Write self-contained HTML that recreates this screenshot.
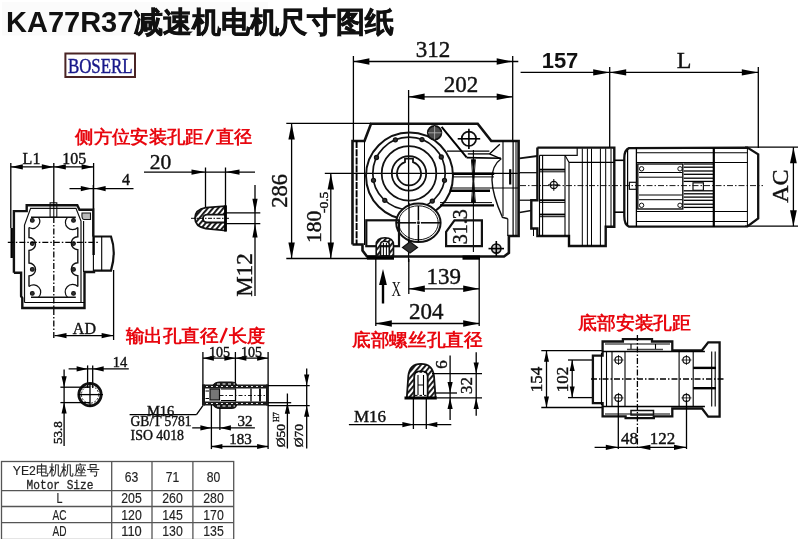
<!DOCTYPE html>
<html><head><meta charset="utf-8"><style>
html,body{margin:0;padding:0;background:#fff;}
body{width:800px;height:539px;overflow:hidden;}
svg{display:block;filter:blur(0.3px);}
</style></head><body>
<svg width="800" height="539" viewBox="0 0 800 539">
<defs><pattern id="hatch" patternUnits="userSpaceOnUse" width="4" height="4" patternTransform="rotate(40)"><rect width="4" height="4" fill="#fff"/><rect width="1.9" height="4" fill="#111"/></pattern></defs>
<rect width="800" height="539" fill="#fff"/>
<rect x="2" y="2" width="266" height="33.5" fill="#fbfbfb"/>
<text x="6" y="32.4" font-family="'Liberation Sans', sans-serif" font-size="29" font-weight="bold" fill="#111">KA77R37<tspan dx="1" stroke="#111" stroke-width="0.7" letter-spacing="-0.2">减速机电机尺寸图纸</tspan></text>
<rect x="65.4" y="53.5" width="69.6" height="23.5" rx="0" fill="none" stroke="#4a2424" stroke-width="2.0"/>
<text x="67.9" y="72.6" font-family="'Liberation Serif', serif" font-size="21.5" fill="#18188a" stroke="#18188a" stroke-width="0.45" textLength="64.7" lengthAdjust="spacingAndGlyphs">BOSERL</text>
<text x="75.3" y="143.2" font-family="'Liberation Sans', sans-serif" font-size="17.5" font-weight="bold" fill="#e8070f" textLength="128.5" lengthAdjust="spacingAndGlyphs">侧方位安装孔距</text>
<line x1="205.6" y1="144.6" x2="213.0" y2="129.6" stroke="#e8070f" stroke-width="2.3"/>
<text x="216.0" y="143.2" font-family="'Liberation Sans', sans-serif" font-size="17.5" font-weight="bold" fill="#e8070f" textLength="36.2" lengthAdjust="spacingAndGlyphs">直径</text>
<text x="125.7" y="341.5" font-family="'Liberation Sans', sans-serif" font-size="17.5" font-weight="bold" fill="#e8070f" textLength="92.8" lengthAdjust="spacingAndGlyphs">输出孔直径</text>
<line x1="220.5" y1="342.8" x2="226.8" y2="328.0" stroke="#e8070f" stroke-width="2.3"/>
<text x="228.7" y="341.5" font-family="'Liberation Sans', sans-serif" font-size="17.5" font-weight="bold" fill="#e8070f" textLength="36.5" lengthAdjust="spacingAndGlyphs">长度</text>
<text x="352.3" y="345.8" font-family="'Liberation Sans', sans-serif" font-size="17.5" font-weight="bold" fill="#e8070f" textLength="130" lengthAdjust="spacingAndGlyphs">底部螺丝孔直径</text>
<text x="578" y="328.5" font-family="'Liberation Sans', sans-serif" font-size="17.5" font-weight="bold" fill="#e8070f" textLength="113" lengthAdjust="spacingAndGlyphs">底部安装孔距</text>
<line x1="353.4" y1="56.0" x2="353.4" y2="141.0" stroke="#000" stroke-width="1.3"/>
<line x1="512.7" y1="56.0" x2="512.7" y2="141.0" stroke="#000" stroke-width="1.3"/>
<line x1="353.4" y1="61.5" x2="518.3" y2="61.5" stroke="#000" stroke-width="1.3"/>
<polygon points="353.4,61.5 369.4,58.3 369.4,64.7" fill="#000"/>
<polygon points="512.7,61.5 496.7,58.3 496.7,64.7" fill="#000"/>
<text x="433.0" y="49.7" font-family="'Liberation Serif', serif" font-size="23" font-weight="normal" fill="#111" stroke="#111" stroke-width="0.4" text-anchor="middle" dominant-baseline="central">312</text>
<line x1="408.6" y1="90.0" x2="408.6" y2="262.0" stroke="#000" stroke-width="1.3"/>
<line x1="408.6" y1="96.8" x2="512.7" y2="96.8" stroke="#000" stroke-width="1.3"/>
<polygon points="408.6,96.8 424.6,93.6 424.6,100.0" fill="#000"/>
<polygon points="512.7,96.8 496.7,93.6 496.7,100.0" fill="#000"/>
<text x="461.0" y="84.6" font-family="'Liberation Serif', serif" font-size="23" font-weight="normal" fill="#111" stroke="#111" stroke-width="0.4" text-anchor="middle" dominant-baseline="central">202</text>
<line x1="520.6" y1="72.4" x2="609.7" y2="72.4" stroke="#000" stroke-width="1.3"/>
<polygon points="609.7,72.4 593.2,69.3 593.2,75.5" fill="#000"/>
<line x1="609.7" y1="72.4" x2="758.3" y2="72.4" stroke="#000" stroke-width="1.3"/>
<polygon points="609.7,72.4 626.2,69.3 626.2,75.5" fill="#000"/>
<polygon points="758.3,72.4 741.8,69.3 741.8,75.5" fill="#000"/>
<line x1="609.7" y1="67.0" x2="609.7" y2="148.0" stroke="#000" stroke-width="1.3"/>
<line x1="758.3" y1="67.0" x2="758.3" y2="148.0" stroke="#000" stroke-width="1.3"/>
<text x="560.0" y="60.3" font-family="'Liberation Sans', sans-serif" font-size="22" font-weight="bold" fill="#111" text-anchor="middle" dominant-baseline="central">157</text>
<text x="684.0" y="60.3" font-family="'Liberation Serif', serif" font-size="24" font-weight="normal" fill="#111" stroke="#111" stroke-width="0.4" text-anchor="middle" dominant-baseline="central">L</text>
<line x1="745.0" y1="147.2" x2="798.0" y2="147.2" stroke="#000" stroke-width="1.3"/>
<line x1="745.0" y1="226.2" x2="798.0" y2="226.2" stroke="#000" stroke-width="1.3"/>
<line x1="793.4" y1="147.2" x2="793.4" y2="226.2" stroke="#000" stroke-width="1.3"/>
<polygon points="793.4,147.2 790.0,163.2 796.8,163.2" fill="#000"/>
<polygon points="793.4,226.2 790.0,210.2 796.8,210.2" fill="#000"/>
<text x="780.3" y="186.1" font-family="'Liberation Serif', serif" font-size="24" font-weight="normal" fill="#111" stroke="#111" stroke-width="0.4" text-anchor="middle" dominant-baseline="central" transform="rotate(-90 780.3 186.1)">AC</text>
<line x1="286.3" y1="123.4" x2="371.0" y2="123.4" stroke="#000" stroke-width="1.3"/>
<line x1="286.3" y1="258.5" x2="367.0" y2="258.5" stroke="#000" stroke-width="1.3"/>
<line x1="291.6" y1="123.4" x2="291.6" y2="258.5" stroke="#000" stroke-width="1.3"/>
<polygon points="291.6,123.4 288.4,139.4 294.8,139.4" fill="#000"/>
<polygon points="291.6,258.5 288.4,242.5 294.8,242.5" fill="#000"/>
<text x="279.3" y="190.8" font-family="'Liberation Serif', serif" font-size="22.5" font-weight="normal" fill="#111" stroke="#111" stroke-width="0.4" text-anchor="middle" dominant-baseline="central" transform="rotate(-90 279.3 190.8)">286</text>
<line x1="324.8" y1="173.4" x2="520.0" y2="173.4" stroke="#000" stroke-width="1.3"/>
<line x1="330.8" y1="173.4" x2="330.8" y2="258.5" stroke="#000" stroke-width="1.3"/>
<polygon points="330.8,173.4 327.6,189.4 334.0,189.4" fill="#000"/>
<polygon points="330.8,258.5 327.6,242.5 334.0,242.5" fill="#000"/>
<text x="314.3" y="226.8" font-family="'Liberation Serif', serif" font-size="21.5" font-weight="normal" fill="#111" stroke="#111" stroke-width="0.4" text-anchor="middle" dominant-baseline="central" transform="rotate(-90 314.3 226.8)">180</text>
<text x="323.2" y="202.4" font-family="'Liberation Serif', serif" font-size="13.5" font-weight="normal" fill="#111" stroke="#111" stroke-width="0.4" text-anchor="middle" dominant-baseline="central" transform="rotate(-90 323.2 202.4)">-0.5</text>
<polyline points="352.5,244.5 352.5,141.0 364.5,141.0 371.0,123.8 477.7,123.8 491.3,141.0 518.6,141.0 518.6,236.0 508.9,236.0 508.9,252.9 504.0,256.5 367.0,256.5 362.5,250.5 362.5,244.5 352.5,244.5" fill="none" stroke="#111" stroke-width="2.6" stroke-linejoin="miter"/>
<rect x="462.5" y="255.5" width="17.5" height="4.2" fill="#000"/>
<rect x="367" y="255.5" width="27" height="4.2" fill="#000"/>
<line x1="356.6" y1="141.0" x2="356.6" y2="244.5" stroke="#000" stroke-width="1.9" stroke-dasharray="7 1.2"/>
<line x1="364.5" y1="141.0" x2="364.5" y2="245.0" stroke="#000" stroke-width="1.0"/>
<line x1="503.0" y1="141.0" x2="503.0" y2="216.0" stroke="#000" stroke-width="1.1"/>
<line x1="513.1" y1="141.0" x2="513.1" y2="236.0" stroke="#000" stroke-width="1.2"/>
<line x1="516.0" y1="141.0" x2="516.0" y2="236.0" stroke="#000" stroke-width="1.0"/>
<circle cx="409.5" cy="176.0" r="43.5" fill="none" stroke="#111" stroke-width="2.0"/>
<circle cx="409.0" cy="173.4" r="36.2" fill="none" stroke="#111" stroke-width="1.7"/>
<circle cx="409.0" cy="173.4" r="27.3" fill="none" stroke="#111" stroke-width="1.8"/>
<circle cx="409.0" cy="173.4" r="17.2" fill="none" stroke="#111" stroke-width="1.8"/>
<path d="M 405.0 162.1 A 12 12 0 1 0 413.0 162.1 L 413.0 158.6 L 405.0 158.6 Z" fill="none" stroke="#111" stroke-width="1.8"/>
<circle cx="395.4" cy="139.8" r="2.0" fill="#333" stroke="#111" stroke-width="1.3"/>
<circle cx="422.0" cy="139.6" r="2.0" fill="#333" stroke="#111" stroke-width="1.3"/>
<circle cx="376.5" cy="157.5" r="2.0" fill="#333" stroke="#111" stroke-width="1.3"/>
<circle cx="441.3" cy="157.0" r="2.0" fill="#333" stroke="#111" stroke-width="1.3"/>
<circle cx="373.5" cy="180.3" r="2.0" fill="#333" stroke="#111" stroke-width="1.3"/>
<circle cx="444.5" cy="180.3" r="2.0" fill="#333" stroke="#111" stroke-width="1.3"/>
<circle cx="384.8" cy="200.3" r="2.0" fill="#333" stroke="#111" stroke-width="1.3"/>
<circle cx="432.3" cy="201.1" r="2.0" fill="#333" stroke="#111" stroke-width="1.3"/>
<circle cx="434.6" cy="132.8" r="6.9" fill="#4a4a4a" stroke="#111" stroke-width="1.6"/>
<line x1="428.0" y1="132.8" x2="441.5" y2="132.8" stroke="#bbb" stroke-width="0.8"/>
<line x1="434.6" y1="126.0" x2="434.6" y2="139.5" stroke="#bbb" stroke-width="0.8"/>
<line x1="441.6" y1="126.9" x2="466.6" y2="157.4" stroke="#000" stroke-width="2.0"/>
<circle cx="468.9" cy="138.8" r="7.2" fill="none" stroke="#111" stroke-width="1.7"/>
<line x1="457.7" y1="138.8" x2="480.2" y2="138.8" stroke="#000" stroke-width="1.6"/>
<line x1="468.9" y1="128.7" x2="468.9" y2="148.9" stroke="#000" stroke-width="1.6"/>
<line x1="473.4" y1="150.0" x2="473.4" y2="252.0" stroke="#000" stroke-width="1.1"/>
<line x1="447.0" y1="151.1" x2="489.4" y2="151.1" stroke="#000" stroke-width="1.3"/>
<line x1="467.8" y1="153.9" x2="489.4" y2="153.9" stroke="#000" stroke-width="1.3"/>
<line x1="489.4" y1="153.9" x2="499.8" y2="144.2" stroke="#000" stroke-width="1.3"/>
<line x1="489.4" y1="153.9" x2="501.2" y2="158.8" stroke="#000" stroke-width="1.3"/>
<line x1="466.6" y1="157.6" x2="501.0" y2="158.2" stroke="#000" stroke-width="1.6"/>
<path d="M 501.2 158.8 Q 482.2 172 502.4 217.3 L 507.8 218.7" fill="none" stroke="#111" stroke-width="1.4"/>
<polygon points="471.3,159.5 475.5,159.5 473.4,168.5" fill="#000" stroke="#111" stroke-width="0.6" stroke-linejoin="miter"/>
<polygon points="471.3,202.6 475.5,202.6 473.4,194.0" fill="#000" stroke="#111" stroke-width="0.6" stroke-linejoin="miter"/>
<path d="M 471.5 160 Q 474.5 181 471.5 202.6" fill="none" stroke="#111" stroke-width="1.0"/>
<path d="M 475.3 160 Q 472.3 181 475.3 202.6" fill="none" stroke="#111" stroke-width="1.0"/>
<line x1="453.2" y1="173.8" x2="494.2" y2="173.8" stroke="#000" stroke-width="2.6"/>
<line x1="453.5" y1="176.9" x2="494.0" y2="176.9" stroke="#000" stroke-width="1.0"/>
<line x1="450.4" y1="188.0" x2="518.0" y2="188.0" stroke="#000" stroke-width="1.0"/>
<line x1="449.7" y1="190.8" x2="490.0" y2="190.8" stroke="#000" stroke-width="2.4"/>
<line x1="440.0" y1="202.6" x2="492.0" y2="202.6" stroke="#000" stroke-width="1.0"/>
<line x1="440.0" y1="205.4" x2="494.0" y2="205.4" stroke="#000" stroke-width="2.2"/>
<line x1="510.2" y1="169.2" x2="510.2" y2="184.5" stroke="#000" stroke-width="2.2"/>
<line x1="507.8" y1="218.7" x2="507.8" y2="236.0" stroke="#000" stroke-width="1.1"/>
<ellipse cx="418.4" cy="222.8" rx="22.2" ry="19.3" fill="#fff" stroke="#111" stroke-width="2.0"/>
<ellipse cx="418.4" cy="222.8" rx="19.8" ry="17" fill="none" stroke="#111" stroke-width="1.0"/>
<line x1="409.0" y1="203.0" x2="409.0" y2="245.0" stroke="#000" stroke-width="1.3"/>
<line x1="418.4" y1="206.0" x2="418.4" y2="220.5" stroke="#000" stroke-width="1.5"/>
<line x1="418.4" y1="225.0" x2="418.4" y2="241.5" stroke="#000" stroke-width="1.5"/>
<line x1="396.5" y1="222.8" x2="416.0" y2="222.8" stroke="#000" stroke-width="1.5"/>
<line x1="421.0" y1="222.8" x2="440.5" y2="222.8" stroke="#000" stroke-width="1.5"/>
<circle cx="418.4" cy="222.8" r="1.4" fill="#111" stroke="#111" stroke-width="0.5"/>
<rect x="366.3" y="220.3" width="32.7" height="25.9" rx="0" fill="none" stroke="#111" stroke-width="2.2"/>
<path fill-rule="evenodd" d="M 376.2 256 L 376.2 245 Q 376.2 237.8 384.9 237.8 Q 393.5 237.8 393.5 245 L 393.5 256 Z M 380.5 256 L 380.5 244.5 Q 380.5 241.2 384.9 241.2 Q 389.3 241.2 389.3 244.5 L 389.3 256 Z" fill="url(#hatch)" stroke="#111" stroke-width="1.6"/>
<line x1="383.4" y1="243.0" x2="383.4" y2="256.0" stroke="#000" stroke-width="1.0"/>
<line x1="386.4" y1="243.0" x2="386.4" y2="256.0" stroke="#000" stroke-width="1.0"/>
<polygon points="410.0,241.8 417.5,247.4 410.0,253.0 402.5,247.4" fill="#333" stroke="#111" stroke-width="1.2" stroke-linejoin="miter"/>
<polygon points="446.1,231.8 454.5,220.3 481.9,220.3 481.9,246.2 446.1,246.2 446.1,231.8" fill="none" stroke="#111" stroke-width="2.2" stroke-linejoin="miter"/>
<text x="459.6" y="226.8" font-family="'Liberation Serif', serif" font-size="20" font-weight="normal" fill="#111" stroke="#111" stroke-width="0.4" text-anchor="middle" dominant-baseline="central" transform="rotate(-90 459.6 226.8)">31.3</text>
<circle cx="496.3" cy="248.6" r="4.6" fill="#ccc" stroke="#111" stroke-width="1.7"/>
<line x1="488.5" y1="248.6" x2="504.0" y2="248.6" stroke="#000" stroke-width="1.6"/>
<line x1="496.3" y1="241.0" x2="496.3" y2="256.0" stroke="#000" stroke-width="1.6"/>
<line x1="375.8" y1="259.0" x2="375.8" y2="326.0" stroke="#000" stroke-width="1.3"/>
<line x1="408.8" y1="259.0" x2="408.8" y2="294.0" stroke="#000" stroke-width="1.3"/>
<line x1="479.2" y1="259.0" x2="479.2" y2="326.0" stroke="#000" stroke-width="1.3"/>
<line x1="408.8" y1="288.8" x2="479.2" y2="288.8" stroke="#000" stroke-width="1.3"/>
<polygon points="408.8,288.8 424.8,285.6 424.8,291.9" fill="#000"/>
<polygon points="479.2,288.8 463.2,285.6 463.2,291.9" fill="#000"/>
<text x="443.8" y="276.5" font-family="'Liberation Serif', serif" font-size="23" font-weight="normal" fill="#111" stroke="#111" stroke-width="0.4" text-anchor="middle" dominant-baseline="central">139</text>
<line x1="375.8" y1="323.5" x2="479.2" y2="323.5" stroke="#000" stroke-width="1.3"/>
<polygon points="375.8,323.5 391.8,320.3 391.8,326.7" fill="#000"/>
<polygon points="479.2,323.5 463.2,320.3 463.2,326.7" fill="#000"/>
<text x="426.2" y="311.0" font-family="'Liberation Serif', serif" font-size="23" font-weight="normal" fill="#111" stroke="#111" stroke-width="0.4" text-anchor="middle" dominant-baseline="central">204</text>
<line x1="383.0" y1="280.0" x2="383.0" y2="303.5" stroke="#000" stroke-width="2.4"/>
<polygon points="383.0,269.1 379.1,285.1 386.9,285.1" fill="#000"/>
<text x="396.3" y="288.6" font-family="'Liberation Serif', serif" font-size="20" font-weight="normal" fill="#111" text-anchor="middle" dominant-baseline="central" textLength="9.5" lengthAdjust="spacingAndGlyphs">X</text>
<polyline points="519.5,158.4 537.4,156.0" fill="none" stroke="#111" stroke-width="1.8" stroke-linejoin="miter"/>
<line x1="519.5" y1="172.7" x2="537.4" y2="172.7" stroke="#000" stroke-width="1.2"/>
<line x1="519.5" y1="200.2" x2="531.3" y2="200.2" stroke="#000" stroke-width="1.2"/>
<polyline points="519.5,212.5 531.3,210.5" fill="none" stroke="#111" stroke-width="1.6" stroke-linejoin="miter"/>
<polyline points="537.4,147.6 614.3,147.6 614.3,226.7 605.7,226.7 605.7,246.0 569.0,246.0 569.0,236.0 537.4,236.0 537.4,228.5 531.3,228.5 531.3,200.2 537.4,200.2 537.4,147.6" fill="none" stroke="#111" stroke-width="2.4" stroke-linejoin="miter"/>
<polyline points="539.5,155.3 577.2,155.3 577.2,148.0" fill="none" stroke="#111" stroke-width="1.2" stroke-linejoin="miter"/>
<line x1="565.0" y1="155.3" x2="569.0" y2="162.4" stroke="#000" stroke-width="1.1"/>
<line x1="569.0" y1="162.4" x2="615.0" y2="162.4" stroke="#000" stroke-width="1.1"/>
<line x1="539.5" y1="155.3" x2="539.5" y2="236.0" stroke="#000" stroke-width="1.1"/>
<line x1="542.6" y1="155.3" x2="542.6" y2="236.0" stroke="#000" stroke-width="1.1"/>
<line x1="565.0" y1="155.3" x2="565.0" y2="236.0" stroke="#000" stroke-width="1.1"/>
<line x1="569.0" y1="162.4" x2="569.0" y2="246.0" stroke="#000" stroke-width="1.1"/>
<line x1="582.3" y1="148.5" x2="582.3" y2="246.0" stroke="#000" stroke-width="1.0"/>
<line x1="587.4" y1="148.5" x2="587.4" y2="246.0" stroke="#000" stroke-width="1.0"/>
<line x1="591.5" y1="148.5" x2="591.5" y2="246.0" stroke="#000" stroke-width="1.0"/>
<line x1="600.4" y1="148.5" x2="600.4" y2="246.0" stroke="#000" stroke-width="1.0"/>
<line x1="605.7" y1="148.5" x2="605.7" y2="226.7" stroke="#000" stroke-width="1.0"/>
<line x1="611.0" y1="148.5" x2="611.0" y2="226.7" stroke="#000" stroke-width="1.0"/>
<line x1="539.5" y1="169.6" x2="565.0" y2="169.6" stroke="#000" stroke-width="1.8"/>
<line x1="539.5" y1="171.8" x2="565.0" y2="171.8" stroke="#000" stroke-width="1.0"/>
<line x1="539.5" y1="200.2" x2="565.0" y2="200.2" stroke="#000" stroke-width="1.8"/>
<line x1="539.5" y1="202.4" x2="565.0" y2="202.4" stroke="#000" stroke-width="1.0"/>
<line x1="539.5" y1="214.5" x2="565.0" y2="214.5" stroke="#000" stroke-width="1.8"/>
<line x1="539.5" y1="216.7" x2="565.0" y2="216.7" stroke="#000" stroke-width="1.0"/>
<line x1="533.5" y1="228.5" x2="533.5" y2="236.0" stroke="#000" stroke-width="1.0"/>
<circle cx="553.8" cy="184.9" r="3.6" fill="none" stroke="#111" stroke-width="1.3"/>
<line x1="548.0" y1="184.9" x2="559.6" y2="184.9" stroke="#000" stroke-width="1.0"/>
<line x1="553.8" y1="179.0" x2="553.8" y2="190.8" stroke="#000" stroke-width="1.0"/>
<line x1="520.0" y1="185.6" x2="763.0" y2="185.6" stroke="#000" stroke-width="0.9" stroke-dasharray="6 2 1.5 2"/>
<line x1="614.3" y1="160.3" x2="624.3" y2="160.3" stroke="#000" stroke-width="1.6"/>
<line x1="614.3" y1="212.2" x2="624.3" y2="212.2" stroke="#000" stroke-width="1.6"/>
<path d="M 629 148.1 L 747.4 147.6 L 758.2 154.3 L 758.2 218.3 L 747.4 226.4 L 629 226.6 Q 624.3 225 624.3 216 L 624.3 158 Q 624.3 150 629 148.1 Z" fill="none" stroke="#111" stroke-width="2.3"/>
<line x1="627.6" y1="150.0" x2="627.6" y2="225.0" stroke="#000" stroke-width="1.2"/>
<line x1="713.8" y1="148.0" x2="713.8" y2="227.0" stroke="#000" stroke-width="2.2"/>
<line x1="747.4" y1="148.0" x2="747.4" y2="226.0" stroke="#000" stroke-width="1.0"/>
<line x1="636.4" y1="148.0" x2="636.4" y2="227.0" stroke="#000" stroke-width="1.3"/>
<line x1="636.0" y1="152.8" x2="747.4" y2="152.8" stroke="#000" stroke-width="1.1"/>
<line x1="636.0" y1="162.5" x2="747.4" y2="162.5" stroke="#000" stroke-width="1.1"/>
<line x1="636.0" y1="211.5" x2="747.4" y2="211.5" stroke="#000" stroke-width="1.1"/>
<line x1="636.0" y1="221.5" x2="747.4" y2="221.5" stroke="#000" stroke-width="1.1"/>
<rect x="637.8" y="164.0" width="45.0" height="45.0" rx="0" fill="none" stroke="#111" stroke-width="1.4"/>
<circle cx="641.6" cy="168.8" r="2.2" fill="none" stroke="#111" stroke-width="1.0"/>
<circle cx="680.0" cy="168.8" r="2.2" fill="none" stroke="#111" stroke-width="1.0"/>
<circle cx="641.6" cy="205.3" r="2.2" fill="none" stroke="#111" stroke-width="1.0"/>
<circle cx="680.0" cy="205.3" r="2.2" fill="none" stroke="#111" stroke-width="1.0"/>
<line x1="639.0" y1="172.5" x2="682.0" y2="172.5" stroke="#000" stroke-width="1.0"/>
<line x1="639.0" y1="177.2" x2="682.0" y2="177.2" stroke="#000" stroke-width="1.0"/>
<line x1="639.0" y1="195.0" x2="682.0" y2="195.0" stroke="#000" stroke-width="1.0"/>
<line x1="639.0" y1="199.7" x2="682.0" y2="199.7" stroke="#000" stroke-width="1.0"/>
<line x1="683.7" y1="164.0" x2="713.8" y2="164.0" stroke="#000" stroke-width="1.3"/>
<line x1="683.7" y1="167.2" x2="713.8" y2="167.2" stroke="#000" stroke-width="1.3"/>
<line x1="683.7" y1="171.0" x2="713.8" y2="171.0" stroke="#000" stroke-width="1.3"/>
<line x1="683.7" y1="174.3" x2="713.8" y2="174.3" stroke="#000" stroke-width="1.3"/>
<line x1="683.7" y1="178.2" x2="713.8" y2="178.2" stroke="#000" stroke-width="1.3"/>
<line x1="683.7" y1="181.4" x2="713.8" y2="181.4" stroke="#000" stroke-width="1.3"/>
<line x1="683.7" y1="190.8" x2="713.8" y2="190.8" stroke="#000" stroke-width="1.3"/>
<line x1="683.7" y1="193.8" x2="713.8" y2="193.8" stroke="#000" stroke-width="1.3"/>
<line x1="683.7" y1="197.1" x2="713.8" y2="197.1" stroke="#000" stroke-width="1.3"/>
<line x1="683.7" y1="200.3" x2="713.8" y2="200.3" stroke="#000" stroke-width="1.3"/>
<line x1="683.7" y1="204.2" x2="713.8" y2="204.2" stroke="#000" stroke-width="1.3"/>
<line x1="683.7" y1="207.4" x2="713.8" y2="207.4" stroke="#000" stroke-width="1.3"/>
<rect x="693.0" y="182.8" width="10.4" height="7.5" rx="0" fill="none" stroke="#111" stroke-width="1.2"/>
<rect x="629.4" y="182.3" width="7.0" height="7.0" rx="0" fill="none" stroke="#111" stroke-width="1.2"/>
<line x1="10.8" y1="163.0" x2="10.8" y2="228.0" stroke="#000" stroke-width="1.3"/>
<line x1="53.8" y1="163.0" x2="53.8" y2="203.0" stroke="#000" stroke-width="1.3"/>
<line x1="53.8" y1="217.0" x2="53.8" y2="339.0" stroke="#000" stroke-width="1.3" stroke-dasharray="6 2 1.5 2"/>
<line x1="93.6" y1="163.0" x2="93.6" y2="209.0" stroke="#000" stroke-width="1.3"/>
<line x1="10.8" y1="166.9" x2="93.6" y2="166.9" stroke="#000" stroke-width="1.3"/>
<polygon points="10.8,166.9 22.8,164.2 22.8,169.6" fill="#000"/>
<polygon points="53.8,166.9 41.8,164.2 41.8,169.6" fill="#000"/>
<polygon points="53.8,166.9 65.8,164.2 65.8,169.6" fill="#000"/>
<polygon points="93.6,166.9 81.6,164.2 81.6,169.6" fill="#000"/>
<text x="31.5" y="158.5" font-family="'Liberation Serif', serif" font-size="16" font-weight="normal" fill="#111" stroke="#111" stroke-width="0.4" text-anchor="middle" dominant-baseline="central">L1</text>
<text x="74.2" y="158.5" font-family="'Liberation Serif', serif" font-size="16" font-weight="normal" fill="#111" stroke="#111" stroke-width="0.4" text-anchor="middle" dominant-baseline="central">105</text>
<line x1="69.5" y1="188.6" x2="133.5" y2="188.6" stroke="#000" stroke-width="1.3"/>
<polygon points="91.8,188.6 80.8,186.0 80.8,191.2" fill="#000"/>
<polygon points="94.6,188.6 105.6,186.0 105.6,191.2" fill="#000"/>
<text x="126.0" y="179.5" font-family="'Liberation Serif', serif" font-size="16" font-weight="normal" fill="#111" stroke="#111" stroke-width="0.4" text-anchor="middle" dominant-baseline="central">4</text>
<line x1="93.3" y1="185.0" x2="93.3" y2="236.0" stroke="#000" stroke-width="1.3"/>
<polyline points="13.9,272.8 13.9,211.1 26.7,211.1 26.7,205.3 77.3,205.3 79.5,209.8 93.3,209.8 93.3,236.5" fill="none" stroke="#111" stroke-width="2.4" stroke-linejoin="miter"/>
<polyline points="13.9,272.8 21.1,272.8 21.1,296.2 22.3,298.0 22.3,308.0 84.5,308.0 84.5,272.0 94.0,272.0 94.0,270.6" fill="none" stroke="#111" stroke-width="2.4" stroke-linejoin="miter"/>
<line x1="11.7" y1="228.0" x2="11.7" y2="258.0" stroke="#000" stroke-width="2.4"/>
<line x1="93.6" y1="236.0" x2="93.6" y2="255.0" stroke="#000" stroke-width="2.4"/>
<line x1="93.4" y1="255.0" x2="93.4" y2="271.0" stroke="#000" stroke-width="1.1"/>
<path d="M 93.3 236.5 L 111 236.5 Q 116.5 252 111 270.6 L 93.3 270.6" fill="none" stroke="#111" stroke-width="2.2"/>
<line x1="101.7" y1="236.5" x2="101.7" y2="270.6" stroke="#000" stroke-width="1.1"/>
<polyline points="24.5,302.5 24.5,225.0 30.6,208.4 76.0,208.4 81.0,221.0 81.0,302.5" fill="none" stroke="#111" stroke-width="1.2" stroke-linejoin="miter"/>
<line x1="24.5" y1="302.5" x2="84.5" y2="302.5" stroke="#000" stroke-width="1.2"/>
<line x1="83.6" y1="221.0" x2="83.6" y2="272.0" stroke="#000" stroke-width="1.1"/>
<path d="M 31 217.3 L 75.8 217.3" fill="none" stroke="#111" stroke-width="1.4"/>
<path d="M 29 227.5 L 29 237.5 A 6.5 6.5 0 0 1 29 250.5 L 29 263 A 6.5 6.5 0 0 1 29 276 L 29 286.5" fill="none" stroke="#111" stroke-width="1.4"/>
<path d="M 77.8 227.5 L 77.8 236.7 A 6.5 6.5 0 0 0 77.8 249.7 L 77.8 262.7 A 6.5 6.5 0 0 0 77.8 275.7 L 77.8 286.5" fill="none" stroke="#111" stroke-width="1.4"/>
<path d="M 31 297.3 L 75.8 297.3" fill="none" stroke="#111" stroke-width="1.4"/>
<path d="M 29 227.5 A 7.2 7.2 0 0 0 38.5 217.3" fill="none" stroke="#111" stroke-width="1.2"/>
<path d="M 77.8 227.5 A 7.2 7.2 0 0 1 67.5 217.3" fill="none" stroke="#111" stroke-width="1.2"/>
<path d="M 29 286.5 A 7.2 7.2 0 0 1 38.5 297.3" fill="none" stroke="#111" stroke-width="1.2"/>
<path d="M 77.8 286.5 A 7.2 7.2 0 0 0 67.5 297.3" fill="none" stroke="#111" stroke-width="1.2"/>
<circle cx="32.3" cy="220.4" r="1.9" fill="#333" stroke="#111" stroke-width="1.1"/>
<circle cx="32.3" cy="243.6" r="1.9" fill="#333" stroke="#111" stroke-width="1.1"/>
<circle cx="32.3" cy="269.4" r="1.9" fill="#333" stroke="#111" stroke-width="1.1"/>
<circle cx="32.3" cy="293.4" r="1.9" fill="#333" stroke="#111" stroke-width="1.1"/>
<circle cx="73.5" cy="220.4" r="1.9" fill="#333" stroke="#111" stroke-width="1.1"/>
<circle cx="73.5" cy="243.6" r="1.9" fill="#333" stroke="#111" stroke-width="1.1"/>
<circle cx="73.5" cy="269.4" r="1.9" fill="#333" stroke="#111" stroke-width="1.1"/>
<circle cx="73.5" cy="293.4" r="1.9" fill="#333" stroke="#111" stroke-width="1.1"/>
<rect x="50.1" y="202.8" width="6.7" height="14.5" rx="0" fill="none" stroke="#111" stroke-width="1.1"/>
<line x1="53.8" y1="202.8" x2="53.8" y2="217.3" stroke="#000" stroke-width="1.0"/>
<line x1="7.8" y1="242.4" x2="98.7" y2="242.4" stroke="#000" stroke-width="1.3" stroke-dasharray="6 2 1.5 2"/>
<path d="M 82 213 L 90.5 213 L 90.5 219.5 L 84 219.5 Q 81.5 219.5 82 213 Z" fill="#bbb" stroke="#111" stroke-width="1.1"/>
<line x1="113.6" y1="270.0" x2="113.6" y2="340.0" stroke="#000" stroke-width="1.3"/>
<line x1="54.5" y1="335.6" x2="113.6" y2="335.6" stroke="#000" stroke-width="1.3"/>
<polygon points="54.5,335.6 66.5,332.9 66.5,338.3" fill="#000"/>
<polygon points="113.6,335.6 101.6,332.9 101.6,338.3" fill="#000"/>
<text x="84.4" y="328.5" font-family="'Liberation Serif', serif" font-size="16" font-weight="normal" fill="#111" stroke="#111" stroke-width="0.4" text-anchor="middle" dominant-baseline="central">AD</text>
<line x1="144.0" y1="172.1" x2="255.0" y2="172.1" stroke="#000" stroke-width="1.3"/>
<polygon points="205.5,172.1 191.5,169.5 191.5,174.7" fill="#000"/>
<polygon points="225.5,172.1 239.5,169.5 239.5,174.7" fill="#000"/>
<text x="160.5" y="161.8" font-family="'Liberation Serif', serif" font-size="21.5" font-weight="normal" fill="#111" stroke="#111" stroke-width="0.4" text-anchor="middle" dominant-baseline="central">20</text>
<line x1="205.5" y1="167.5" x2="205.5" y2="208.0" stroke="#000" stroke-width="1.3"/>
<line x1="225.5" y1="167.5" x2="225.5" y2="206.0" stroke="#000" stroke-width="1.3"/>
<path fill-rule="evenodd" d="M 225.5 206.2 L 205.8 207.6 Q 195 209.5 195 218.2 Q 195 226.5 205.8 228.6 L 225.5 230.6 Z M 225.5 214.7 L 207 214.7 Q 203 215 203 218.6 Q 203 222.2 207 222.5 L 225.5 222.5 Z" fill="url(#hatch)" stroke="#111" stroke-width="1.8"/>
<line x1="225.5" y1="205.5" x2="225.5" y2="231.5" stroke="#000" stroke-width="2.8"/>
<line x1="191.0" y1="218.3" x2="229.0" y2="218.3" stroke="#000" stroke-width="1.0" stroke-dasharray="4 1.5 1.5 1.5"/>
<line x1="226.0" y1="212.8" x2="260.3" y2="212.8" stroke="#000" stroke-width="1.3"/>
<line x1="226.0" y1="223.6" x2="260.3" y2="223.6" stroke="#000" stroke-width="1.3"/>
<line x1="255.0" y1="185.0" x2="255.0" y2="296.0" stroke="#000" stroke-width="1.3"/>
<polygon points="255.0,212.8 252.4,198.8 257.6,198.8" fill="#000"/>
<polygon points="255.0,223.6 252.4,237.6 257.6,237.6" fill="#000"/>
<text x="244.4" y="275.0" font-family="'Liberation Serif', serif" font-size="23" font-weight="normal" fill="#111" stroke="#111" stroke-width="0.4" text-anchor="middle" dominant-baseline="central" transform="rotate(-90 244.4 275.0)">M12</text>
<line x1="68.6" y1="368.9" x2="128.8" y2="368.9" stroke="#000" stroke-width="1.3"/>
<polygon points="87.6,368.9 76.6,366.3 76.6,371.5" fill="#000"/>
<polygon points="92.7,368.9 103.7,366.3 103.7,371.5" fill="#000"/>
<text x="120.0" y="361.8" font-family="'Liberation Serif', serif" font-size="14.5" font-weight="normal" fill="#111" stroke="#111" stroke-width="0.4" text-anchor="middle" dominant-baseline="central">14</text>
<line x1="87.6" y1="365.4" x2="87.6" y2="387.9" stroke="#000" stroke-width="1.3"/>
<line x1="92.7" y1="365.4" x2="92.7" y2="387.9" stroke="#000" stroke-width="1.3"/>
<circle cx="90.0" cy="394.6" r="11.2" fill="none" stroke="#111" stroke-width="2.8"/>
<circle cx="90.0" cy="394.6" r="8.6" fill="none" stroke="#111" stroke-width="0.9" stroke-dasharray="2 1.5"/>
<line x1="78.0" y1="394.6" x2="103.0" y2="394.6" stroke="#000" stroke-width="1.3"/>
<line x1="90.0" y1="383.0" x2="90.0" y2="407.0" stroke="#000" stroke-width="1.3"/>
<line x1="60.4" y1="387.2" x2="90.0" y2="387.2" stroke="#000" stroke-width="1.3"/>
<line x1="60.4" y1="402.6" x2="90.0" y2="402.6" stroke="#000" stroke-width="1.3"/>
<line x1="64.1" y1="369.5" x2="64.1" y2="446.0" stroke="#000" stroke-width="1.3"/>
<polygon points="64.1,387.2 61.5,376.2 66.7,376.2" fill="#000"/>
<polygon points="64.1,402.6 61.5,413.6 66.7,413.6" fill="#000"/>
<text x="57.5" y="432.6" font-family="'Liberation Serif', serif" font-size="13" font-weight="normal" fill="#111" stroke="#111" stroke-width="0.4" text-anchor="middle" dominant-baseline="central" transform="rotate(-90 57.5 432.6)">53.8</text>
<line x1="202.9" y1="352.0" x2="202.9" y2="386.4" stroke="#000" stroke-width="1.3"/>
<line x1="235.4" y1="352.0" x2="235.4" y2="386.4" stroke="#000" stroke-width="1.3"/>
<line x1="268.1" y1="352.0" x2="268.1" y2="449.0" stroke="#000" stroke-width="1.3"/>
<line x1="202.9" y1="358.2" x2="268.1" y2="358.2" stroke="#000" stroke-width="1.3"/>
<polygon points="202.9,358.2 213.9,355.6 213.9,360.8" fill="#000"/>
<polygon points="235.4,358.2 224.4,355.6 224.4,360.8" fill="#000"/>
<polygon points="235.4,358.2 246.4,355.6 246.4,360.8" fill="#000"/>
<polygon points="268.1,358.2 257.1,355.6 257.1,360.8" fill="#000"/>
<text x="219.5" y="352.8" font-family="'Liberation Serif', serif" font-size="14" font-weight="normal" fill="#111" stroke="#111" stroke-width="0.4" text-anchor="middle" dominant-baseline="central">105</text>
<text x="251.5" y="352.8" font-family="'Liberation Serif', serif" font-size="14" font-weight="normal" fill="#111" stroke="#111" stroke-width="0.4" text-anchor="middle" dominant-baseline="central">105</text>
<rect x="202.5" y="384.5" width="65.5" height="4" fill="#1a1a1a"/>
<rect x="202.5" y="401.5" width="65.5" height="4" fill="#1a1a1a"/>
<rect x="202" y="384.5" width="3" height="21" fill="#1a1a1a"/>
<rect x="266" y="384.5" width="2.6" height="21" fill="#1a1a1a"/>
<path d="M 213.5 384.8 Q 215.5 382 219.5 382 L 231.5 382 Q 235.5 382 236.5 384.8 Z" fill="#1a1a1a" stroke="#111" stroke-width="1.2"/>
<path d="M 213.5 405.2 Q 215.5 408.3 219.5 408.3 L 231.5 408.3 Q 235.5 408.3 236.5 405.2 Z" fill="#1a1a1a" stroke="#111" stroke-width="1.2"/>
<line x1="206.0" y1="386.5" x2="266.0" y2="386.5" stroke="#fff" stroke-width="0.9" stroke-dasharray="2 3"/>
<line x1="206.0" y1="403.5" x2="266.0" y2="403.5" stroke="#fff" stroke-width="0.9" stroke-dasharray="2 3"/>
<line x1="217.0" y1="384.0" x2="235.0" y2="384.0" stroke="#fff" stroke-width="1.0" stroke-dasharray="3 2.5"/>
<line x1="217.0" y1="406.0" x2="235.0" y2="406.0" stroke="#fff" stroke-width="1.0" stroke-dasharray="3 2.5"/>
<rect x="210" y="389" width="9.5" height="11" fill="#777" stroke="#111" stroke-width="1.2"/>
<line x1="205.5" y1="391.0" x2="209.0" y2="391.0" stroke="#000" stroke-width="1.0"/>
<line x1="205.5" y1="398.5" x2="209.0" y2="398.5" stroke="#000" stroke-width="1.0"/>
<line x1="235.5" y1="388.5" x2="235.5" y2="401.5" stroke="#000" stroke-width="1.3"/>
<line x1="251.0" y1="388.5" x2="251.0" y2="401.5" stroke="#000" stroke-width="1.3"/>
<line x1="260.0" y1="388.5" x2="260.0" y2="401.5" stroke="#000" stroke-width="1.8"/>
<line x1="219.5" y1="395.5" x2="266.0" y2="395.5" stroke="#000" stroke-width="0.9" stroke-dasharray="4 2 1.5 2"/>
<line x1="221.0" y1="389.0" x2="235.5" y2="389.0" stroke="#000" stroke-width="1.0"/>
<line x1="221.0" y1="400.5" x2="235.5" y2="400.5" stroke="#000" stroke-width="1.0"/>
<line x1="129.6" y1="414.7" x2="196.5" y2="414.7" stroke="#000" stroke-width="1.3"/>
<line x1="196.5" y1="414.7" x2="202.9" y2="405.6" stroke="#000" stroke-width="1.3"/>
<text x="160.6" y="410.6" font-family="'Liberation Serif', serif" font-size="14.5" font-weight="normal" fill="#111" stroke="#111" stroke-width="0.4" text-anchor="middle" dominant-baseline="central">M16</text>
<text x="130.6" y="426.2" font-family="'Liberation Serif', serif" font-size="14.5" fill="#111" stroke="#111" stroke-width="0.4" textLength="61" lengthAdjust="spacingAndGlyphs">GB/T 5781</text>
<text x="130.6" y="439.5" font-family="'Liberation Serif', serif" font-size="14.5" fill="#111" stroke="#111" stroke-width="0.4" textLength="53.4" lengthAdjust="spacingAndGlyphs">ISO 4018</text>
<line x1="192.2" y1="427.9" x2="254.9" y2="427.9" stroke="#000" stroke-width="1.3"/>
<polygon points="211.4,427.9 200.4,425.3 200.4,430.5" fill="#000"/>
<polygon points="219.9,427.9 230.9,425.3 230.9,430.5" fill="#000"/>
<text x="245.0" y="420.6" font-family="'Liberation Serif', serif" font-size="15" font-weight="normal" fill="#111" stroke="#111" stroke-width="0.4" text-anchor="middle" dominant-baseline="central">32</text>
<line x1="211.4" y1="405.0" x2="211.4" y2="449.1" stroke="#000" stroke-width="1.3"/>
<line x1="219.9" y1="408.0" x2="219.9" y2="430.0" stroke="#000" stroke-width="1.3"/>
<line x1="211.4" y1="446.5" x2="268.1" y2="446.5" stroke="#000" stroke-width="1.3"/>
<polygon points="211.4,446.5 222.4,443.9 222.4,449.1" fill="#000"/>
<polygon points="268.1,446.5 257.1,443.9 257.1,449.1" fill="#000"/>
<text x="240.4" y="438.9" font-family="'Liberation Serif', serif" font-size="15" font-weight="normal" fill="#111" stroke="#111" stroke-width="0.4" text-anchor="middle" dominant-baseline="central">183</text>
<line x1="268.0" y1="385.6" x2="309.7" y2="385.6" stroke="#000" stroke-width="1.3"/>
<line x1="268.0" y1="405.7" x2="309.7" y2="405.7" stroke="#000" stroke-width="1.3"/>
<line x1="268.0" y1="402.7" x2="291.2" y2="402.7" stroke="#000" stroke-width="1.3"/>
<line x1="287.4" y1="393.5" x2="287.4" y2="448.5" stroke="#000" stroke-width="1.3"/>
<polygon points="287.4,402.7 284.8,413.7 290.0,413.7" fill="#000"/>
<line x1="306.7" y1="368.6" x2="306.7" y2="448.5" stroke="#000" stroke-width="1.3"/>
<polygon points="306.7,385.6 304.1,374.6 309.3,374.6" fill="#000"/>
<polygon points="306.7,405.7 304.1,416.7 309.3,416.7" fill="#000"/>
<text x="280.4" y="435.5" font-family="'Liberation Serif', serif" font-size="13.5" font-weight="normal" fill="#111" stroke="#111" stroke-width="0.4" text-anchor="middle" dominant-baseline="central" transform="rotate(-90 280.4 435.5)">Ø50</text>
<text x="277.0" y="417.1" font-family="'Liberation Serif', serif" font-size="8" font-weight="normal" fill="#111" stroke="#111" stroke-width="0.4" text-anchor="middle" dominant-baseline="central" transform="rotate(-90 277.0 417.1)">H7</text>
<text x="298.9" y="435.5" font-family="'Liberation Serif', serif" font-size="13.5" font-weight="normal" fill="#111" stroke="#111" stroke-width="0.4" text-anchor="middle" dominant-baseline="central" transform="rotate(-90 298.9 435.5)">Ø70</text>
<path fill-rule="evenodd" d="M 406.8 397.9 L 408.3 376 Q 409.5 363.8 421 363.8 Q 432.5 363.8 434 376 L 435.6 397.9 Z M 414.2 397.9 L 414.2 376.5 Q 414.2 371.2 421 371.2 Q 427.7 371.2 427.7 376.5 L 427.7 397.9 Z" fill="url(#hatch)" stroke="#111" stroke-width="1.8"/>
<line x1="404.5" y1="397.9" x2="436.8" y2="397.9" stroke="#000" stroke-width="3.0"/>
<line x1="418.0" y1="375.0" x2="418.0" y2="395.0" stroke="#000" stroke-width="1.1"/>
<line x1="423.5" y1="375.0" x2="423.5" y2="395.0" stroke="#000" stroke-width="1.1"/>
<line x1="418.0" y1="385.0" x2="423.5" y2="385.0" stroke="#000" stroke-width="1.0"/>
<line x1="415.0" y1="372.2" x2="427.0" y2="372.2" stroke="#000" stroke-width="1.0" stroke-dasharray="2.5 2"/>
<line x1="415.0" y1="395.4" x2="427.0" y2="395.4" stroke="#000" stroke-width="1.0" stroke-dasharray="2.5 2"/>
<line x1="413.4" y1="398.0" x2="413.4" y2="429.0" stroke="#000" stroke-width="1.3"/>
<line x1="426.3" y1="398.0" x2="426.3" y2="429.0" stroke="#000" stroke-width="1.3"/>
<line x1="348.9" y1="424.6" x2="451.3" y2="424.6" stroke="#000" stroke-width="1.3"/>
<polygon points="413.4,424.6 402.4,422.0 402.4,427.2" fill="#000"/>
<polygon points="426.3,424.6 437.3,422.0 437.3,427.2" fill="#000"/>
<text x="370.0" y="416.8" font-family="'Liberation Serif', serif" font-size="17" font-weight="normal" fill="#111" stroke="#111" stroke-width="0.4" text-anchor="middle" dominant-baseline="central">M16</text>
<line x1="432.0" y1="373.6" x2="482.0" y2="373.6" stroke="#000" stroke-width="1.3"/>
<line x1="436.0" y1="393.0" x2="457.0" y2="393.0" stroke="#000" stroke-width="1.3"/>
<line x1="450.1" y1="355.6" x2="450.1" y2="420.0" stroke="#000" stroke-width="1.3"/>
<polygon points="450.1,393.0 447.5,382.0 452.7,382.0" fill="#000"/>
<polygon points="450.1,397.9 447.5,408.9 452.7,408.9" fill="#000"/>
<text x="441.2" y="364.5" font-family="'Liberation Serif', serif" font-size="17" font-weight="normal" fill="#111" stroke="#111" stroke-width="0.4" text-anchor="middle" dominant-baseline="central" transform="rotate(-90 441.2 364.5)">6</text>
<line x1="476.2" y1="352.3" x2="476.2" y2="415.7" stroke="#000" stroke-width="1.3"/>
<polygon points="476.2,373.6 473.6,362.6 478.8,362.6" fill="#000"/>
<polygon points="476.2,397.9 473.6,408.9 478.8,408.9" fill="#000"/>
<line x1="436.8" y1="397.9" x2="482.0" y2="397.9" stroke="#000" stroke-width="1.3"/>
<text x="466.8" y="385.6" font-family="'Liberation Serif', serif" font-size="17" font-weight="normal" fill="#111" stroke="#111" stroke-width="0.4" text-anchor="middle" dominant-baseline="central" transform="rotate(-90 466.8 385.6)">32</text>
<line x1="541.3" y1="350.7" x2="602.2" y2="350.7" stroke="#000" stroke-width="1.3"/>
<line x1="541.3" y1="407.5" x2="602.2" y2="407.5" stroke="#000" stroke-width="1.3"/>
<line x1="546.5" y1="350.7" x2="546.5" y2="407.5" stroke="#000" stroke-width="1.3"/>
<polygon points="546.5,350.7 544.0,361.7 549.0,361.7" fill="#000"/>
<polygon points="546.5,407.5 544.0,396.5 549.0,396.5" fill="#000"/>
<text x="536.5" y="379.5" font-family="'Liberation Serif', serif" font-size="17" font-weight="normal" fill="#111" stroke="#111" stroke-width="0.4" text-anchor="middle" dominant-baseline="central" transform="rotate(-90 536.5 379.5)">154</text>
<line x1="568.0" y1="360.0" x2="594.0" y2="360.0" stroke="#000" stroke-width="1.3"/>
<line x1="568.0" y1="397.6" x2="594.0" y2="397.6" stroke="#000" stroke-width="1.3"/>
<line x1="572.2" y1="360.0" x2="572.2" y2="397.6" stroke="#000" stroke-width="1.3"/>
<polygon points="572.2,360.0 569.7,371.0 574.7,371.0" fill="#000"/>
<polygon points="572.2,397.6 569.7,386.6 574.7,386.6" fill="#000"/>
<text x="562.0" y="379.5" font-family="'Liberation Serif', serif" font-size="17" font-weight="normal" fill="#111" stroke="#111" stroke-width="0.4" text-anchor="middle" dominant-baseline="central" transform="rotate(-90 562.0 379.5)">102</text>
<polygon points="602.6,350.3 602.6,341.5 622.9,341.5 622.9,339.2 652.0,339.2 652.0,341.5 672.3,341.5 672.3,350.3 702.0,350.3 708.2,342.3 719.6,342.3 719.6,416.6 708.2,416.6 702.0,408.5 672.3,408.5 672.3,416.4 653.8,416.4 653.8,418.2 625.6,418.2 625.6,416.4 602.6,416.4 602.6,403.2 592.9,403.2 592.9,355.6 602.6,355.6 602.6,350.3" fill="none" stroke="#111" stroke-width="2.3" stroke-linejoin="miter"/>
<line x1="606.5" y1="351.5" x2="606.5" y2="406.5" stroke="#000" stroke-width="1.1"/>
<line x1="612.0" y1="351.5" x2="612.0" y2="406.5" stroke="#000" stroke-width="1.1"/>
<line x1="625.0" y1="351.5" x2="625.0" y2="406.5" stroke="#000" stroke-width="1.1"/>
<line x1="679.1" y1="351.5" x2="679.1" y2="406.5" stroke="#000" stroke-width="1.1"/>
<line x1="693.2" y1="351.5" x2="693.2" y2="406.5" stroke="#000" stroke-width="1.1"/>
<line x1="711.7" y1="351.5" x2="711.7" y2="406.5" stroke="#000" stroke-width="1.1"/>
<line x1="715.2" y1="351.5" x2="715.2" y2="406.5" stroke="#000" stroke-width="1.1"/>
<line x1="602.6" y1="351.5" x2="704.9" y2="351.5" stroke="#000" stroke-width="1.5"/>
<line x1="602.6" y1="406.5" x2="704.9" y2="406.5" stroke="#000" stroke-width="1.5"/>
<line x1="605.0" y1="344.0" x2="670.0" y2="344.0" stroke="#000" stroke-width="1.0"/>
<line x1="605.0" y1="414.0" x2="670.0" y2="414.0" stroke="#000" stroke-width="1.0"/>
<line x1="631.0" y1="344.0" x2="631.0" y2="349.5" stroke="#000" stroke-width="1.1"/>
<line x1="655.5" y1="344.0" x2="655.5" y2="349.5" stroke="#000" stroke-width="1.1"/>
<line x1="627.0" y1="349.5" x2="663.0" y2="349.5" stroke="#444" stroke-width="1.6"/>
<rect x="631.0" y="410.5" width="22.5" height="4.5" rx="0" fill="none" stroke="#111" stroke-width="1.5"/>
<line x1="601.5" y1="353.0" x2="601.5" y2="405.0" stroke="#000" stroke-width="1.2"/>
<line x1="693.2" y1="367.9" x2="716.0" y2="367.9" stroke="#000" stroke-width="2.4"/>
<line x1="693.2" y1="388.2" x2="716.0" y2="388.2" stroke="#000" stroke-width="2.4"/>
<circle cx="618.5" cy="360.0" r="3.5" fill="none" stroke="#111" stroke-width="1.2"/>
<line x1="613.5" y1="360.0" x2="623.5" y2="360.0" stroke="#000" stroke-width="0.8"/>
<line x1="618.5" y1="355.0" x2="618.5" y2="365.0" stroke="#000" stroke-width="0.8"/>
<circle cx="618.5" cy="397.9" r="3.5" fill="none" stroke="#111" stroke-width="1.2"/>
<line x1="613.5" y1="397.9" x2="623.5" y2="397.9" stroke="#000" stroke-width="0.8"/>
<line x1="618.5" y1="392.9" x2="618.5" y2="402.9" stroke="#000" stroke-width="0.8"/>
<circle cx="686.4" cy="360.0" r="3.5" fill="none" stroke="#111" stroke-width="1.2"/>
<line x1="681.4" y1="360.0" x2="691.4" y2="360.0" stroke="#000" stroke-width="0.8"/>
<line x1="686.4" y1="355.0" x2="686.4" y2="365.0" stroke="#000" stroke-width="0.8"/>
<circle cx="686.4" cy="397.9" r="3.5" fill="none" stroke="#111" stroke-width="1.2"/>
<line x1="681.4" y1="397.9" x2="691.4" y2="397.9" stroke="#000" stroke-width="0.8"/>
<line x1="686.4" y1="392.9" x2="686.4" y2="402.9" stroke="#000" stroke-width="0.8"/>
<line x1="591.0" y1="379.0" x2="725.0" y2="379.0" stroke="#000" stroke-width="1.3" stroke-dasharray="6 2 1.5 2"/>
<line x1="637.4" y1="335.0" x2="637.4" y2="449.0" stroke="#000" stroke-width="1.3" stroke-dasharray="6 2 1.5 2"/>
<line x1="618.3" y1="400.0" x2="618.3" y2="449.0" stroke="#000" stroke-width="1.3"/>
<line x1="686.5" y1="400.0" x2="686.5" y2="449.0" stroke="#000" stroke-width="1.3"/>
<line x1="594.6" y1="447.3" x2="686.5" y2="447.3" stroke="#000" stroke-width="1.3"/>
<polygon points="618.3,447.3 605.8,444.7 605.8,449.9" fill="#000"/>
<polygon points="637.4,447.3 650.4,444.7 650.4,449.9" fill="#000"/>
<polygon points="686.5,447.3 674.0,444.7 674.0,449.9" fill="#000"/>
<text x="629.5" y="438.0" font-family="'Liberation Serif', serif" font-size="17" font-weight="normal" fill="#111" stroke="#111" stroke-width="0.4" text-anchor="middle" dominant-baseline="central">48</text>
<text x="662.5" y="438.0" font-family="'Liberation Serif', serif" font-size="17" font-weight="normal" fill="#111" stroke="#111" stroke-width="0.4" text-anchor="middle" dominant-baseline="central">122</text>
<rect x="1.5" y="461.5" width="232.2" height="78.0" rx="0" fill="none" stroke="#555" stroke-width="1.3"/>
<line x1="111.7" y1="461.5" x2="111.7" y2="539.0" stroke="#555" stroke-width="1.3"/>
<line x1="152.0" y1="461.5" x2="152.0" y2="539.0" stroke="#555" stroke-width="1.3"/>
<line x1="192.9" y1="461.5" x2="192.9" y2="539.0" stroke="#555" stroke-width="1.3"/>
<line x1="1.5" y1="490.7" x2="233.7" y2="490.7" stroke="#555" stroke-width="1.3"/>
<line x1="1.5" y1="506.5" x2="233.7" y2="506.5" stroke="#555" stroke-width="1.3"/>
<line x1="1.5" y1="522.6" x2="233.7" y2="522.6" stroke="#555" stroke-width="1.3"/>
<text x="56" y="470.2" font-family="'Liberation Sans', sans-serif" font-size="13.5" fill="#222" stroke="#222" stroke-width="0.15" text-anchor="middle" dominant-baseline="central" textLength="86.5" lengthAdjust="spacingAndGlyphs">YE2电机机座号</text>
<text x="60" y="486.4" font-family="'Liberation Mono', monospace" font-size="12.5" fill="#222" stroke="#222" stroke-width="0.3" text-anchor="middle" dominant-baseline="central" textLength="66.8" lengthAdjust="spacingAndGlyphs">Motor Size</text>
<text x="131.5" y="476.6" font-family="'Liberation Sans', sans-serif" font-size="14.2" font-weight="normal" fill="#222" stroke="#222" stroke-width="0.15" text-anchor="middle" dominant-baseline="central" textLength="13.5" lengthAdjust="spacingAndGlyphs">63</text>
<text x="172.5" y="476.6" font-family="'Liberation Sans', sans-serif" font-size="14.2" font-weight="normal" fill="#222" stroke="#222" stroke-width="0.15" text-anchor="middle" dominant-baseline="central" textLength="13.5" lengthAdjust="spacingAndGlyphs">71</text>
<text x="213.5" y="476.6" font-family="'Liberation Sans', sans-serif" font-size="14.2" font-weight="normal" fill="#222" stroke="#222" stroke-width="0.15" text-anchor="middle" dominant-baseline="central" textLength="13.5" lengthAdjust="spacingAndGlyphs">80</text>
<text x="59.5" y="498.1" font-family="'Liberation Sans', sans-serif" font-size="14.2" font-weight="normal" fill="#222" stroke="#222" stroke-width="0.15" text-anchor="middle" dominant-baseline="central" textLength="6" lengthAdjust="spacingAndGlyphs">L</text>
<text x="131.5" y="498.1" font-family="'Liberation Sans', sans-serif" font-size="14.2" font-weight="normal" fill="#222" stroke="#222" stroke-width="0.15" text-anchor="middle" dominant-baseline="central" textLength="20.5" lengthAdjust="spacingAndGlyphs">205</text>
<text x="172.5" y="498.1" font-family="'Liberation Sans', sans-serif" font-size="14.2" font-weight="normal" fill="#222" stroke="#222" stroke-width="0.15" text-anchor="middle" dominant-baseline="central" textLength="20.5" lengthAdjust="spacingAndGlyphs">260</text>
<text x="213.5" y="498.1" font-family="'Liberation Sans', sans-serif" font-size="14.2" font-weight="normal" fill="#222" stroke="#222" stroke-width="0.15" text-anchor="middle" dominant-baseline="central" textLength="20.5" lengthAdjust="spacingAndGlyphs">280</text>
<text x="59.5" y="514.8" font-family="'Liberation Sans', sans-serif" font-size="14.2" font-weight="normal" fill="#222" stroke="#222" stroke-width="0.15" text-anchor="middle" dominant-baseline="central" textLength="14" lengthAdjust="spacingAndGlyphs">AC</text>
<text x="131.5" y="514.8" font-family="'Liberation Sans', sans-serif" font-size="14.2" font-weight="normal" fill="#222" stroke="#222" stroke-width="0.15" text-anchor="middle" dominant-baseline="central" textLength="20.5" lengthAdjust="spacingAndGlyphs">120</text>
<text x="172.5" y="514.8" font-family="'Liberation Sans', sans-serif" font-size="14.2" font-weight="normal" fill="#222" stroke="#222" stroke-width="0.15" text-anchor="middle" dominant-baseline="central" textLength="20.5" lengthAdjust="spacingAndGlyphs">145</text>
<text x="213.5" y="514.8" font-family="'Liberation Sans', sans-serif" font-size="14.2" font-weight="normal" fill="#222" stroke="#222" stroke-width="0.15" text-anchor="middle" dominant-baseline="central" textLength="20.5" lengthAdjust="spacingAndGlyphs">170</text>
<text x="59.5" y="530.6" font-family="'Liberation Sans', sans-serif" font-size="14.2" font-weight="normal" fill="#222" stroke="#222" stroke-width="0.15" text-anchor="middle" dominant-baseline="central" textLength="14" lengthAdjust="spacingAndGlyphs">AD</text>
<text x="131.5" y="530.6" font-family="'Liberation Sans', sans-serif" font-size="14.2" font-weight="normal" fill="#222" stroke="#222" stroke-width="0.15" text-anchor="middle" dominant-baseline="central" textLength="20.5" lengthAdjust="spacingAndGlyphs">110</text>
<text x="172.5" y="530.6" font-family="'Liberation Sans', sans-serif" font-size="14.2" font-weight="normal" fill="#222" stroke="#222" stroke-width="0.15" text-anchor="middle" dominant-baseline="central" textLength="20.5" lengthAdjust="spacingAndGlyphs">130</text>
<text x="213.5" y="530.6" font-family="'Liberation Sans', sans-serif" font-size="14.2" font-weight="normal" fill="#222" stroke="#222" stroke-width="0.15" text-anchor="middle" dominant-baseline="central" textLength="20.5" lengthAdjust="spacingAndGlyphs">135</text>
</svg>
</body></html>
